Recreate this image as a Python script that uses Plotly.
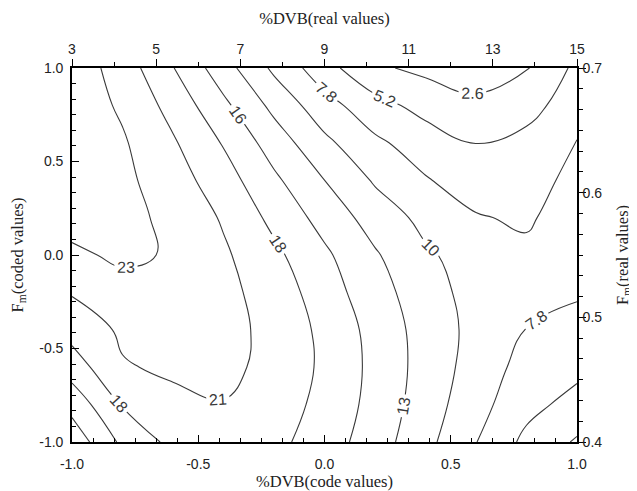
import plotly.graph_objects as go

# coded %DVB (x) and coded Fm (y) grid positions
X_CODED = [-1.0, -0.8, -0.6, -0.4, -0.2, 0.0, 0.2, 0.4, 0.6, 0.8, 1.0]
Y_CODED = [-1.0, -0.8, -0.6, -0.4, -0.2, 0.0, 0.2, 0.4, 0.6, 0.8, 1.0]

Z_Y_M10 = [11.3, 16.16, 18.9, 19.8, 18.9, 16.9, 14.27, 11.15, 7.87, 4.55, 2.3]
Z_Y_M08 = [13.9, 18.4, 20.2, 20.7, 19.5, 17.45, 14.73, 11.7, 8.74, 6.0, 4.3]
Z_Y_M06 = [16.85, 20.6, 21.2, 21.4, 20.1, 17.7, 14.9, 11.97, 9.32, 6.85, 5.9]
Z_Y_M04 = [19.2, 21.2, 21.8, 21.5, 20.2, 17.5, 14.75, 11.9, 9.64, 7.75, 6.9]
Z_Y_M02 = [21.0, 22.6, 22.3, 21.5, 19.7, 16.85, 14.05, 11.54, 9.4, 8.5, 8.1]
Z_Y_P00 = [23.0, 23.8, 23.2, 21.2, 18.8, 16.06, 13.28, 10.77, 9.3, 8.4, 9.1]
Z_Y_P02 = [24.2, 24.0, 22.9, 20.5, 17.5, 14.65, 11.86, 9.67, 8.0, 7.4, 9.3]
Z_Y_P04 = [24.5, 24.0, 22.0, 19.35, 16.1, 13.0, 10.1, 8.0, 6.5, 6.4, 8.8]
Z_Y_P06 = [25.0, 23.7, 21.1, 18.0, 14.4, 11.0, 8.3, 6.5, 5.1, 6.0, 7.9]
Z_Y_P08 = [25.0, 23.0, 19.9, 16.2, 12.3, 8.8, 6.15, 4.3, 3.1, 4.2, 6.7]
Z_Y_P10 = [25.0, 22.2, 18.3, 14.1, 9.9, 6.2, 3.0, 2.0, 1.5, 2.4, 5.8]

LEVEL_START = 2.6
LEVEL_END = 23.4
LEVEL_STEP = 2.6

BOTTOM_TICKS = [-1.0, -0.5, 0.0, 0.5, 1.0]
LEFT_TICKS = [-1.0, -0.5, 0.0, 0.5, 1.0]
TOP_TICKS = [3, 5, 7, 9, 11, 13, 15]
RIGHT_TICKS = [0.4, 0.5, 0.6, 0.7]

Z = [Z_Y_M10, Z_Y_M08, Z_Y_M06, Z_Y_M04, Z_Y_M02, Z_Y_P00,
     Z_Y_P02, Z_Y_P04, Z_Y_P06, Z_Y_P08, Z_Y_P10]

SANS = "Liberation Sans, Arial, sans-serif"
SERIF = "Liberation Serif, Times New Roman, serif"
INK = "#222222"
LINE = "#3a3a3a"


def minor_vals(ticks, parts):
    out = []
    for a, b in zip(ticks[:-1], ticks[1:]):
        step = (b - a) / parts
        out += [round(a + k * step, 6) for k in range(1, parts)]
    return out


def minor(ticks, parts, side):
    return dict(tickmode="array", tickvals=minor_vals(ticks, parts), ticks=side,
                ticklen=4, tickwidth=1.1, tickcolor="black")


fig = go.Figure()
fig.add_trace(go.Contour(
    x=X_CODED, y=Y_CODED, z=Z,
    autocontour=False,
    contours=dict(start=LEVEL_START, end=LEVEL_END + 0.01, size=LEVEL_STEP,
                  coloring="none", showlabels=True, labelformat=".2g",
                  labelfont=dict(family=SANS, size=16, color=LINE)),
    line=dict(color=LINE, width=1.1, smoothing=1.2),
    showscale=False, hoverinfo="skip",
))
# invisible carrier so the real-value (top / right) axes are drawn
fig.add_trace(go.Scatter(
    x=[TOP_TICKS[0], TOP_TICKS[-1]], y=[RIGHT_TICKS[0], RIGHT_TICKS[-1]],
    xaxis="x2", yaxis="y2", mode="markers",
    marker=dict(opacity=0, size=1), hoverinfo="skip", showlegend=False,
))

tick_font = dict(family=SANS, size=14, color=INK)
title_font = dict(family=SERIF, size=16.5, color=INK)

fig.update_layout(
    width=629, height=483,
    margin=dict(l=64, r=60, t=60, b=49),
    paper_bgcolor="white", plot_bgcolor="rgba(0,0,0,0)",
    showlegend=False,
    xaxis=dict(
        range=[-1, 1], tickvals=BOTTOM_TICKS,
        ticktext=[f"{v:.1f}" for v in BOTTOM_TICKS],
        ticks="inside", ticklen=7, tickwidth=1.3, tickcolor="black",
        minor=minor(BOTTOM_TICKS, 6, "inside"),
        showline=True, linecolor="black", linewidth=1.6,
        showgrid=False, zeroline=False, tickfont=tick_font,
        ticklabelstandoff=8,
        title=dict(text="%DVB(code values)", font=title_font, standoff=2),
        automargin=False,
    ),
    yaxis=dict(
        range=[-1, 1], tickvals=LEFT_TICKS,
        ticktext=[f"{v:.1f}" for v in LEFT_TICKS],
        ticks="inside", ticklen=7, tickwidth=1.3, tickcolor="black",
        minor=minor(LEFT_TICKS, 6, "inside"),
        showline=True, linecolor="black", linewidth=1.6,
        showgrid=False, zeroline=False, tickfont=tick_font,
        ticklabelstandoff=4,
        title=dict(text="F<sub>m</sub>(coded values)", font=title_font, standoff=12),
        automargin=False,
    ),
    xaxis2=dict(
        overlaying="x", side="top", anchor="y",
        range=[TOP_TICKS[0], TOP_TICKS[-1]], tickvals=TOP_TICKS,
        ticks="outside", ticklen=7, tickwidth=1.3, tickcolor="black",
        minor=minor(TOP_TICKS, 2, "outside"),
        showline=True, linecolor="black", linewidth=1.6,
        showgrid=False, zeroline=False, tickfont=tick_font,
        title=dict(text="%DVB(real values)", font=title_font, standoff=12),
        automargin=False,
    ),
    yaxis2=dict(
        overlaying="y", side="right", anchor="x",
        range=[RIGHT_TICKS[0], RIGHT_TICKS[-1]], tickvals=RIGHT_TICKS,
        ticktext=[f"{v:.1f}" for v in RIGHT_TICKS],
        ticks="outside", ticklen=7, tickwidth=1.3, tickcolor="black",
        minor=minor(RIGHT_TICKS, 6, "outside"),
        showline=True, linecolor="black", linewidth=1.6,
        showgrid=False, zeroline=False, tickfont=tick_font,
        ticklabelstandoff=-6,
        title=dict(text="F<sub>m</sub>(real values)", font=title_font, standoff=15),
        automargin=False,
    ),
)

fig.write_html("out.html")
